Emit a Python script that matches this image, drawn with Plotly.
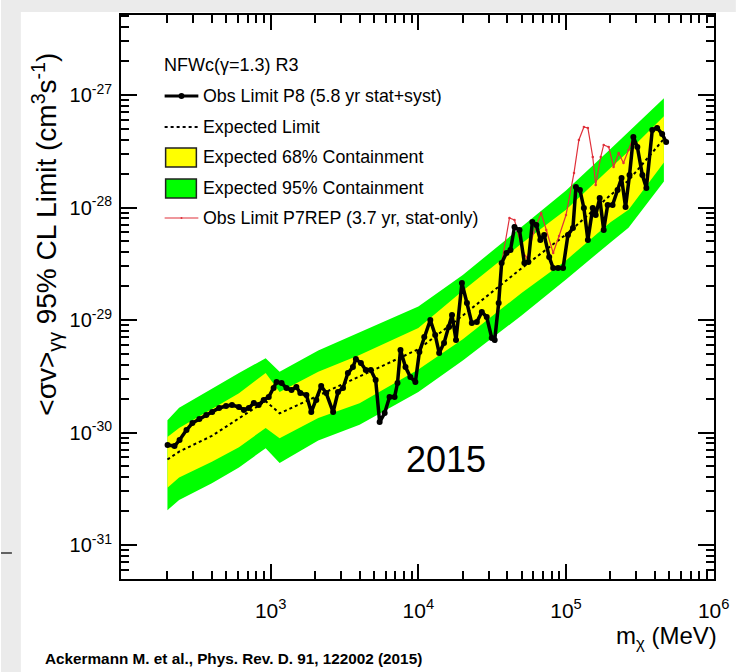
import numpy as np
import plotly.graph_objects as go

# Expected-limit bands: dark-matter mass (MeV) and log10 of the <sigma v> limit (cm^3 s^-1)
band_mass = [200, 240, 400, 610, 925, 1150, 2100, 4000, 1.0e4, 2.0e4, 5.0e4, 1.0e5, 2.0e5, 2.65e5, 4.6e5]
band95_hi = [-29.89, -29.78, -29.61, -29.47, -29.34, -29.46, -29.27, -29.11, -28.88, -28.60, -28.17, -27.85, -27.48, -27.33, -27.03]
band68_hi = [-30.04, -29.96, -29.79, -29.65, -29.47, -29.64, -29.46, -29.31, -29.07, -28.74, -28.32, -28.02, -27.65, -27.50, -27.19]
expected = [-30.24, -30.17, -30.03, -29.87, -29.72, -29.83, -29.67, -29.50, -29.26, -28.96, -28.54, -28.24, -27.89, -27.76, -27.39]
band68_lo = [-30.49, -30.40, -30.26, -30.13, -29.96, -30.05, -29.87, -29.74, -29.44, -29.17, -28.76, -28.47, -28.13, -28.02, -27.60]
band95_lo = [-30.69, -30.60, -30.45, -30.31, -30.14, -30.27, -30.07, -29.93, -29.64, -29.36, -28.96, -28.64, -28.31, -28.18, -27.77]

# Observed limit, Pass 8 (5.8 yr, stat+syst): log10 mass (MeV), log10 limit
p8_log_mass = [2.302, 2.349, 2.383, 2.430, 2.470, 2.517, 2.564, 2.604, 2.651, 2.698,
               2.738, 2.785, 2.819, 2.852, 2.886, 2.919, 2.953, 2.987, 3.020, 3.040,
               3.074, 3.107, 3.141, 3.174, 3.201, 3.242, 3.275, 3.309, 3.342, 3.376,
               3.423, 3.456, 3.490, 3.523, 3.557, 3.577, 3.611, 3.644, 3.678, 3.711,
               3.738, 3.772, 3.805, 3.839, 3.859, 3.879, 3.913, 3.946, 3.980, 4.007,
               4.040, 4.081, 4.114, 4.141, 4.174, 4.208, 4.228, 4.255, 4.295, 4.329,
               4.362, 4.396, 4.430, 4.463, 4.497, 4.517, 4.544, 4.564, 4.597, 4.624,
               4.651, 4.685, 4.718, 4.745, 4.772, 4.799, 4.826, 4.852, 4.886, 4.913,
               4.946, 4.980, 5.013, 5.047, 5.067, 5.094, 5.121, 5.148, 5.181, 5.201,
               5.228, 5.255, 5.282, 5.315, 5.349, 5.376, 5.403, 5.430, 5.456, 5.483,
               5.517, 5.544, 5.584, 5.617, 5.651, 5.678]
p8_log_limit = [-30.111, -30.120, -30.067, -29.978, -29.916, -29.880, -29.844, -29.818, -29.782, -29.764,
                -29.756, -29.773, -29.800, -29.782, -29.738, -29.756, -29.711, -29.684, -29.604, -29.551,
                -29.560, -29.604, -29.622, -29.596, -29.649, -29.667, -29.818, -29.711, -29.587, -29.649,
                -29.818, -29.640, -29.604, -29.471, -29.418, -29.347, -29.382, -29.444, -29.444, -29.533,
                -29.907, -29.827, -29.684, -29.684, -29.560, -29.267, -29.418, -29.507, -29.551, -29.284,
                -29.151, -29.000, -29.133, -29.293, -29.204, -29.062, -28.956, -29.178, -28.671, -28.849,
                -29.027, -29.018, -28.929, -28.973, -29.160, -29.178, -28.849, -28.493, -28.404, -28.378,
                -28.173, -28.200, -28.493, -28.484, -28.129, -28.156, -28.289, -28.244, -28.440, -28.538,
                -28.538, -28.538, -28.244, -28.182, -27.818, -27.844, -28.004, -28.289, -28.004, -28.067,
                -27.916, -28.200, -27.978, -27.978, -27.844, -27.738, -27.996, -27.711, -27.373, -27.462,
                -27.711, -27.827, -27.311, -27.293, -27.347, -27.418]

# Observed limit, P7REP (3.7 yr, stat-only)
p7_log_mass = [4.564, 4.617, 4.651, 4.711, 4.738, 4.779, 4.832, 4.866, 4.913, 4.953,
               5.000, 5.054, 5.087, 5.121, 5.148, 5.181, 5.201, 5.235, 5.255, 5.289,
               5.322, 5.356, 5.389, 5.423, 5.456, 5.483]
p7_log_limit = [-28.493, -28.093, -28.111, -28.404, -28.449, -28.227, -28.049, -28.200, -28.404, -28.253,
                -28.067, -27.693, -27.400, -27.284, -27.293, -27.551, -27.800, -27.551, -27.444, -27.462,
                -27.640, -27.516, -27.604, -27.489, -27.373, -27.462]

x_major = [1e3, 1e4, 1e5, 1e6]
x_major_text = ["10<sup>3</sup>", "10<sup>4</sup>", "10<sup>5</sup>", "10<sup>6</sup>"]
y_major = [1e-31, 1e-30, 1e-29, 1e-28, 1e-27]
y_major_text = ["10<sup>-31</sup>", "10<sup>-30</sup>", "10<sup>-29</sup>", "10<sup>-28</sup>", "10<sup>-27</sup>"]

legend_title = "NFWc(γ=1.3) R3"
legend_labels = ["Obs Limit P8 (5.8 yr stat+syst)", "Expected Limit",
                 "Expected 68% Containment", "Expected 95% Containment",
                 "Obs Limit P7REP (3.7 yr, stat-only)"]

W, H = 741, 672
ML, MR, MT, MB = 121, 22, 15, 93
PW, PH = W - ML - MR, H - MT - MB
X_RANGE = [1.9866, 6.002]
Y_RANGE = [-31.302, -26.289]

SANS = "Liberation Sans, Arial, Helvetica, sans-serif"
GREEN, YELLOW, RED = "#00ff00", "#ffff00", "#e0303a"


def fx(p):
    return (p - ML) / PW


def fy(p):
    return (H - MB - p) / PH


def pw10(a):
    return list(10.0 ** np.asarray(a))


mass_b = list(band_mass)
fig = go.Figure()

# 95% band
fig.add_trace(go.Scatter(x=mass_b, y=pw10(band95_lo), mode="lines", line=dict(width=0, color=GREEN),
                         showlegend=False, hoverinfo="skip"))
fig.add_trace(go.Scatter(x=mass_b, y=pw10(band95_hi), mode="lines", line=dict(width=0, color=GREEN),
                         fill="tonexty", fillcolor=GREEN, showlegend=False, name=legend_labels[3]))
# 68% band
fig.add_trace(go.Scatter(x=mass_b, y=pw10(band68_lo), mode="lines", line=dict(width=0, color=YELLOW),
                         showlegend=False, hoverinfo="skip"))
fig.add_trace(go.Scatter(x=mass_b, y=pw10(band68_hi), mode="lines", line=dict(width=0, color=YELLOW),
                         fill="tonexty", fillcolor=YELLOW, showlegend=False, name=legend_labels[2]))
# expected limit
fig.add_trace(go.Scatter(x=mass_b, y=pw10(expected), mode="lines",
                         line=dict(color="black", width=2, dash="3px,3px"),
                         showlegend=False, name=legend_labels[1]))
# P7REP observed
fig.add_trace(go.Scatter(x=pw10(p7_log_mass), y=pw10(p7_log_limit), mode="lines+markers",
                         line=dict(color=RED, width=1.2), marker=dict(color=RED, size=2.5),
                         showlegend=False, name=legend_labels[4]))
# P8 observed
fig.add_trace(go.Scatter(x=pw10(p8_log_mass), y=pw10(p8_log_limit), mode="lines+markers",
                         line=dict(color="black", width=3.5), marker=dict(color="black", size=6),
                         showlegend=False, name=legend_labels[0]))
# carrier for the minor-tick axes
fig.add_trace(go.Scatter(x=[], y=[], xaxis="x2", yaxis="y2", showlegend=False, hoverinfo="skip"))

x_minor = [k * 10.0 ** d for d in range(2, 6) for k in range(2, 10)]
y_minor = [k * 10.0 ** d for d in range(-32, -26) for k in range(2, 10)]
y_minor = [v for v in y_minor if Y_RANGE[0] < np.log10(v) < Y_RANGE[1]]

axis_common = dict(type="log", showgrid=False, zeroline=False, ticks="inside",
                   tickcolor="black", mirror="ticks")
fig.update_layout(
    width=W, height=H,
    margin=dict(l=ML, r=MR, t=MT, b=MB, pad=0),
    paper_bgcolor="white", plot_bgcolor="white",
    showlegend=False,
    xaxis=dict(**axis_common, range=X_RANGE, tickvals=x_major, ticktext=x_major_text,
               ticklen=15, tickwidth=2, showline=True, linewidth=2, linecolor="black",
               ticklabelstandoff=12,
               tickfont=dict(family=SANS, size=21, color="black")),
    yaxis=dict(**axis_common, range=Y_RANGE, tickvals=y_major, ticktext=y_major_text,
               ticklen=16, tickwidth=2, showline=True, linewidth=2, linecolor="black",
               ticklabelstandoff=3,
               tickfont=dict(family=SANS, size=20, color="black")),
    xaxis2=dict(**axis_common, overlaying="x", anchor="y", range=X_RANGE, tickvals=x_minor,
                ticklen=8, tickwidth=1.5, showticklabels=False, showline=False),
    yaxis2=dict(**axis_common, overlaying="y", anchor="x", range=Y_RANGE, tickvals=y_minor,
                ticklen=8, tickwidth=1.5, showticklabels=False, showline=False),
)

shapes = [
    # grey page border strips
    dict(type="rect", xref="paper", yref="paper", x0=fx(0), x1=fx(20), y0=fy(H), y1=fy(0),
         fillcolor="#ebebeb", line=dict(width=0), layer="below"),
    dict(type="rect", xref="paper", yref="paper", x0=fx(0), x1=fx(W), y0=fy(12), y1=fy(0),
         fillcolor="#ebebeb", line=dict(width=0), layer="below"),
    dict(type="line", xref="paper", yref="paper", x0=fx(0), x1=fx(11), y0=fy(553), y1=fy(553),
         line=dict(color="#333333", width=1.5)),
]

# legend symbols
sx0, sx1 = 165, 199
row_y = [96, 127, 157, 188, 218]
shapes += [
    dict(type="line", xref="paper", yref="paper", x0=fx(sx0), x1=fx(sx1), y0=fy(row_y[0]), y1=fy(row_y[0]),
         line=dict(color="black", width=3)),
    dict(type="circle", xref="paper", yref="paper", x0=fx(179), x1=fx(185), y0=fy(row_y[0] + 3), y1=fy(row_y[0] - 3),
         fillcolor="black", line=dict(color="black", width=0)),
    dict(type="line", xref="paper", yref="paper", x0=fx(sx0), x1=fx(sx1), y0=fy(row_y[1]), y1=fy(row_y[1]),
         line=dict(color="black", width=2, dash="3px,3px")),
    dict(type="rect", xref="paper", yref="paper", x0=fx(166), x1=fx(197), y0=fy(row_y[2] + 10), y1=fy(row_y[2] - 9),
         fillcolor=YELLOW, line=dict(color="#222222", width=1.5)),
    dict(type="rect", xref="paper", yref="paper", x0=fx(166), x1=fx(197), y0=fy(row_y[3] + 10), y1=fy(row_y[3] - 9),
         fillcolor=GREEN, line=dict(color="#222222", width=1.5)),
    dict(type="line", xref="paper", yref="paper", x0=fx(sx0), x1=fx(sx1), y0=fy(row_y[4]), y1=fy(row_y[4]),
         line=dict(color=RED, width=1.2)),
    dict(type="circle", xref="paper", yref="paper", x0=fx(181), x1=fx(183), y0=fy(row_y[4] + 1), y1=fy(row_y[4] - 1),
         fillcolor=RED, line=dict(color=RED, width=0)),
]
fig.update_layout(shapes=shapes)

ann = []
ann.append(dict(text=legend_title, x=fx(162), y=fy(65), xref="paper", yref="paper",
                xanchor="left", yanchor="middle", showarrow=False,
                font=dict(family=SANS, size=18, color="black")))
for lab, yy in zip(legend_labels, row_y):
    ann.append(dict(text=lab, x=fx(202), y=fy(yy), xref="paper", yref="paper",
                    xanchor="left", yanchor="middle", showarrow=False,
                    font=dict(family=SANS, size=17.8, color="black")))
# axis titles
ann.append(dict(text="<σv><sub>γγ</sub> 95% CL Limit (cm<sup>3</sup>s<sup>-1</sup>)",
                x=fx(46), y=fy(234), xref="paper", yref="paper", textangle=-90,
                xanchor="center", yanchor="middle", showarrow=False,
                font=dict(family=SANS, size=28, color="black")))
ann.append(dict(text="m<sub>χ</sub> (MeV)", x=fx(724), y=fy(637), xref="paper", yref="paper",
                xanchor="right", yanchor="middle", showarrow=False,
                font=dict(family=SANS, size=24, color="black")))
ann.append(dict(text="2015", x=fx(449), y=fy(459), xref="paper", yref="paper",
                xanchor="center", yanchor="middle", showarrow=False,
                font=dict(family=SANS, size=36, color="black")))
ann.append(dict(text="<b>Ackermann M. et al., Phys. Rev. D. 91, 122002 (2015)</b>",
                x=fx(42), y=fy(658), xref="paper", yref="paper",
                xanchor="left", yanchor="middle", showarrow=False,
                font=dict(family=SANS, size=15.3, color="black")))
fig.update_layout(annotations=ann)

fig.write_html("out.html")
